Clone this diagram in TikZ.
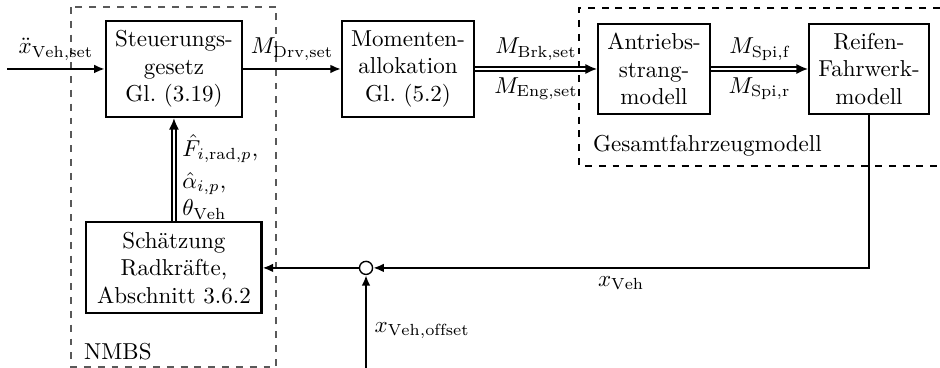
\documentclass[tikz,border=0pt]{standalone}
\usepackage{fontspec}
\usepackage{amsmath}
\usepackage{tikz}
\usetikzlibrary{arrows.meta, positioning}

\tikzset{
  block/.style={draw, line width=0.9pt, align=center, inner sep=2pt},
  sigline/.style={line width=0.9pt, -{Latex[length=4.6pt,width=3.8pt]}},
  busline/.style={line width=0.7pt, double, double distance=0.9pt, -{Latex[length=5pt,width=4.4pt]}},
  groupbox/.style={dashed, semithin},
  semithin/.style={line width=0.5pt},
  sumpoint/.style={draw, semithick, circle, fill=white, inner sep=0pt, minimum size=0.2cm}
}

\begin{document}
\begin{tikzpicture}
  \useasboundingbox (0,0) rectangle (14.351,-5.618);

  % Gruppen
  \draw[groupbox, black!65] (1.084,-0.107) rectangle (4.214,-5.603);
  \draw[groupbox] (14.351,-0.122) -| (8.840,-2.534) -- (14.351,-2.534);
  \node[anchor=west] (nmbslbl) at (1.16,-5.374) {NMBS};
  \node[anchor=west] (gesamtlbl) at (8.93,-2.229) {Gesamtfahrzeugmodell};

  % Bloecke
  \node[block, minimum width=2.08cm, minimum height=1.47cm] (steuer) at (2.656,-1.053) {Steuerungs-\\gesetz\\Gl.~(3.19)};
  \node[block, minimum width=2.015cm, minimum height=1.47cm] (moment) at (6.229,-1.053) {Momenten-\\allokation\\Gl.~(5.2)};
  \node[block, minimum width=1.71cm, minimum height=1.374cm] (antrieb) at (9.985,-1.053) {Antriebs-\\strang-\\modell};
  \node[block, minimum width=1.832cm, minimum height=1.374cm] (reifen) at (13.267,-1.053) {Reifen-\\Fahrwerk-\\modell};
  \node[block, minimum width=2.672cm, minimum height=1.389cm] (schaetz) at (2.656,-4.09) {Schätzung\\Radkräfte,\\Abschnitt 3.6.2};
  \node[sumpoint] (sum) at (5.588,-4.09) {};

  \coordinate (xin) at (0.107,-1.053);
  \coordinate (xoff) at (5.588,-5.618);

  % Signale
  \draw[sigline] (xin) -- (steuer.west) node[midway, above] {$\ddot{x}_{\mathrm{Veh,set}}$};
  \draw[sigline] (steuer.east) -- (moment.west) node[midway, above] {$M_{\mathrm{Drv,set}}$};
  \draw[busline] (moment.east) -- (antrieb.west)
    node[midway, above] {$M_{\mathrm{Brk,set}}$}
    node[midway, below] {$M_{\mathrm{Eng,set}}$};
  \draw[busline] (antrieb.east) -- (reifen.west)
    node[midway, above] {$M_{\mathrm{Spi,f}}$}
    node[midway, below] {$M_{\mathrm{Spi,r}}$};
  \draw[sigline] (reifen.south) |- (sum.east) node[pos=0.75, below] {$x_{\mathrm{Veh}}$};
  \draw[sigline] (xoff) -- (sum.south) node[pos=0.4, right] {$x_{\mathrm{Veh,offset}}$};
  \draw[sigline] (sum.west) -- (schaetz.east);
  \draw[busline] (schaetz.north) -- (steuer.south)
    node[pos=0.43, right, align=left] {$\hat{F}_{i,\mathrm{rad},p}$,\\[2pt]$\hat{\alpha}_{i,p}$,\\$\theta_{\mathrm{Veh}}$};
\end{tikzpicture}
\end{document}
